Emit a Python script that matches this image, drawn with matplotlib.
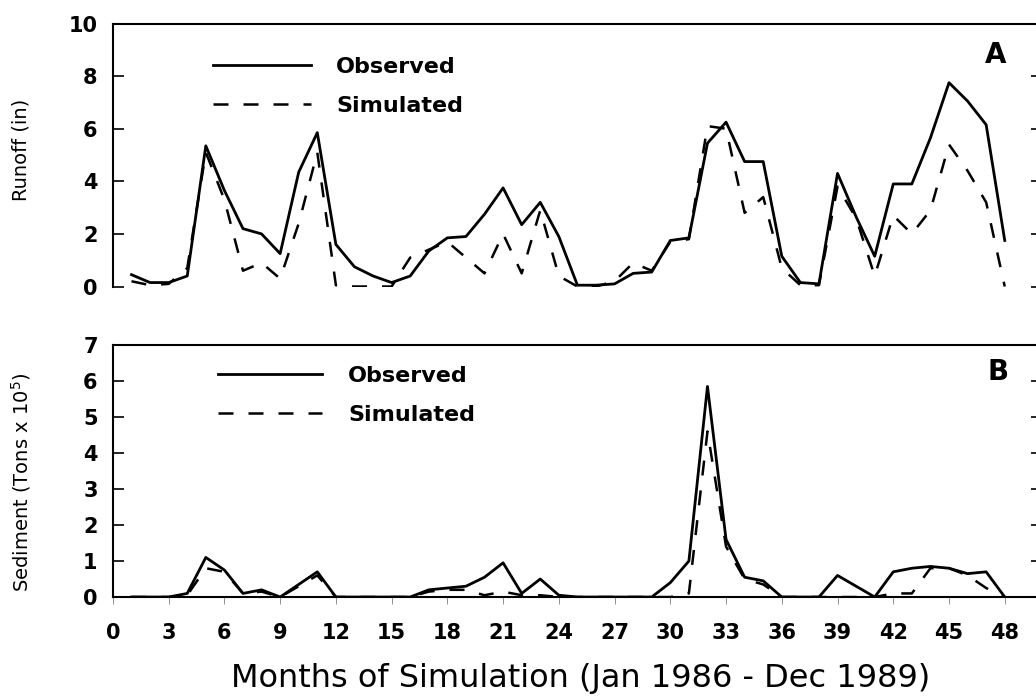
import matplotlib
matplotlib.use("Agg")
import matplotlib.pyplot as plt
import numpy as np

months = np.arange(1, 49)
month_ticks = np.arange(0, 49, 3)

runoff_observed = [0.45, 0.15, 0.15, 0.4, 5.35, 3.65, 2.2, 2.0, 1.25, 4.35, 5.85, 1.6,
                   0.75, 0.4, 0.15, 0.4, 1.35, 1.85, 1.9, 2.75, 3.75, 2.35, 3.2, 1.9,
                   0.05, 0.05, 0.1, 0.5, 0.55, 1.75, 1.85, 5.45, 6.25, 4.75, 4.75, 1.15,
                   0.15, 0.1, 4.3, 2.65, 1.15, 3.9, 3.9, 5.65, 7.75, 7.05, 6.15, 1.75]
runoff_simulated = [0.2, 0.05, 0.1, 0.7, 5.1, 3.3, 0.6, 0.9, 0.3, 2.4, 5.1, 0.05,
                    0.0, 0.0, 0.0, 1.1, 1.4, 1.7, 1.1, 0.5, 2.0, 0.5, 2.9, 0.4,
                    0.0, 0.0, 0.2, 0.9, 0.6, 1.7, 1.8, 6.1, 6.0, 2.8, 3.4, 0.7,
                    0.05, 0.05, 3.8, 2.6, 0.4, 2.7, 2.0, 2.9, 5.4, 4.4, 3.2, 0.0]

sediment_observed = [0.0, 0.0, 0.0, 0.1, 1.1, 0.75, 0.1, 0.2, 0.0, 0.35, 0.7, 0.0,
                     0.0, 0.0, 0.0, 0.0, 0.2, 0.25, 0.3, 0.55, 0.95, 0.1, 0.5, 0.05,
                     0.0, 0.0, 0.0, 0.0, 0.0, 0.4, 1.0, 5.85, 1.6, 0.55, 0.45, 0.0,
                     0.0, 0.0, 0.6, 0.3, 0.0, 0.7, 0.8, 0.85, 0.8, 0.65, 0.7, 0.0]
sediment_simulated = [0.0, 0.0, 0.0, 0.05, 0.8, 0.7, 0.1, 0.15, 0.0, 0.3, 0.6, 0.0,
                      0.0, 0.0, 0.0, 0.0, 0.15, 0.2, 0.2, 0.05, 0.15, 0.05, 0.05, 0.0,
                      0.0, 0.0, 0.0, 0.0, 0.0, 0.0, 0.1, 4.6, 1.4, 0.5, 0.35, 0.0,
                      0.0, 0.0, 0.0, 0.0, 0.0, 0.1, 0.1, 0.8, 0.8, 0.6, 0.25, 0.0]

fig = plt.figure(figsize=(10.36, 7), dpi=100)
ax1 = fig.add_axes([0.109, 0.5907, 0.8967, 0.3757])
ax2 = fig.add_axes([0.109, 0.1471, 0.8967, 0.36])

solid = dict(color="black", linewidth=2.0)
dashed = dict(color="black", linewidth=1.8, linestyle=(0, (6, 6)))

ax1.plot(months, runoff_observed, label="Observed", **solid)
ax1.plot(months, runoff_simulated, label="Simulated", **dashed)
ax2.plot(months, sediment_observed, label="Observed", **solid)
ax2.plot(months, sediment_simulated, label="Simulated", **dashed)

ax1.set_ylim(0, 10)
ax1.set_yticks(np.arange(0, 11, 2))
ax2.set_ylim(0, 7)
ax2.set_yticks(np.arange(0, 8, 1))
for ax in (ax1, ax2):
    ax.set_xlim(0, 50)
    ax.tick_params(axis="y", direction="in", length=8, width=1.2, right=True,
                   labelsize=15, pad=11)
    for lab in ax.get_yticklabels():
        lab.set_fontweight("bold")
    for s in ax.spines.values():
        s.set_linewidth(1.5)

ax1.spines["bottom"].set_visible(False)
ax1.set_xticks([])

ax2.set_xticks(month_ticks)
ax2.tick_params(axis="x", direction="out", length=5, width=0.6, color="gray",
                labelcolor="black", labelsize=15, pad=14)
for lab in ax2.get_xticklabels():
    lab.set_fontweight("bold")

leg_kw = dict(loc="upper left", frameon=False, handletextpad=1.15,
              labelspacing=0.85, borderaxespad=0, borderpad=0,
              prop=dict(size=16, weight="bold"))
ax1.legend(bbox_to_anchor=(0.1076, 0.873), handlelength=4.4, **leg_kw)
ax2.legend(bbox_to_anchor=(0.113, 0.917), handlelength=4.7, **leg_kw)

ax1.text(0.950, 0.880, "A", transform=ax1.transAxes, fontsize=20, fontweight="bold",
         ha="center", va="center")
ax2.text(0.953, 0.893, "B", transform=ax2.transAxes, fontsize=20, fontweight="bold",
         ha="center", va="center")

fig.text(0.020, 0.786, "Runoff (in)", rotation=90, ha="center", va="center", fontsize=14)
fig.text(0.020, 0.311, "Sediment (Tons x 10$^5$)", rotation=90, ha="center",
         va="center", fontsize=14)
fig.text(0.56, 0.0186, "Months of Simulation (Jan 1986 - Dec 1989)", ha="center",
         va="baseline", fontsize=23)

fig.savefig("out.png", dpi=100)
